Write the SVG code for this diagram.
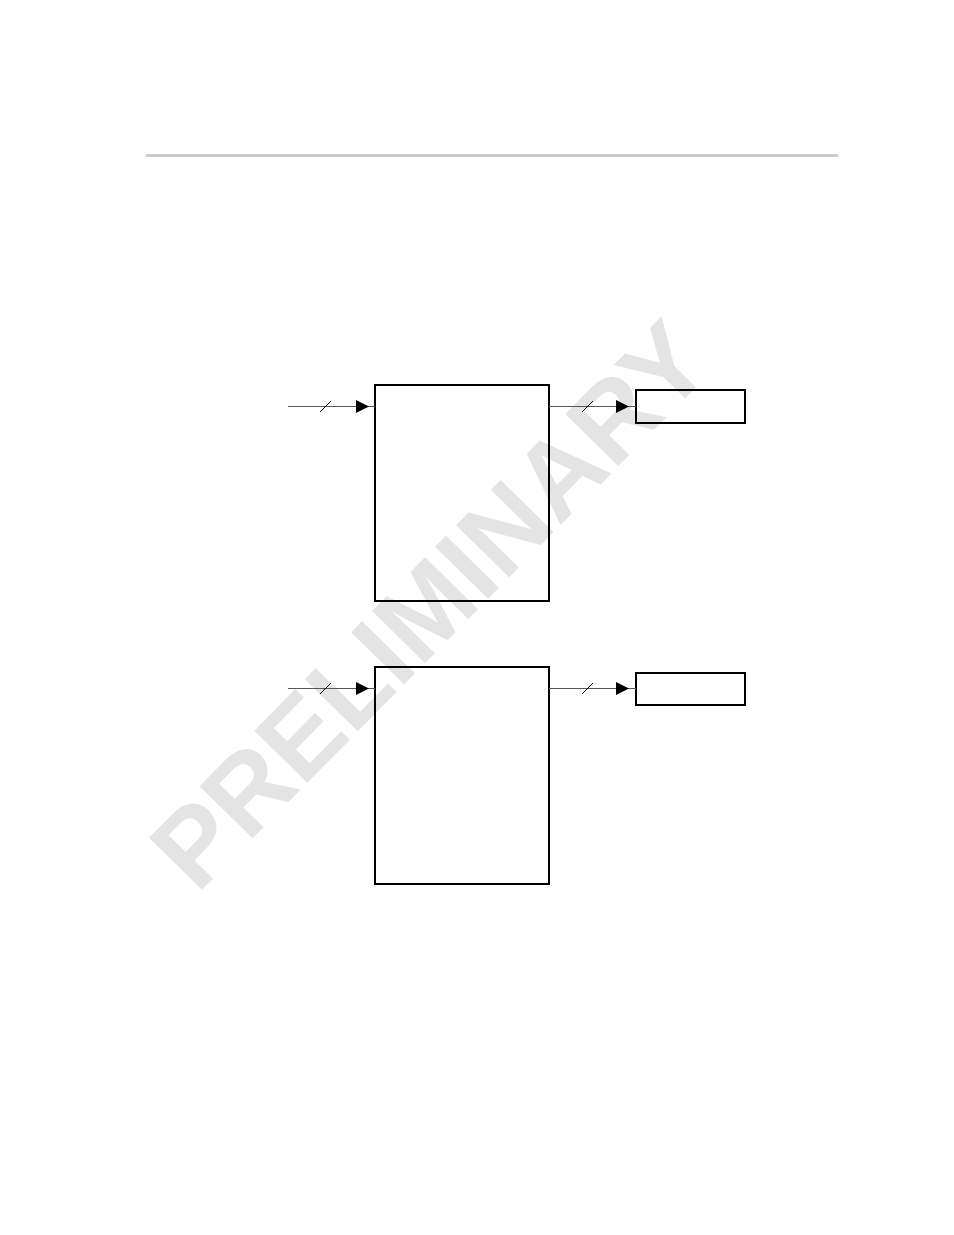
<svg xmlns="http://www.w3.org/2000/svg" width="954" height="1235" viewBox="0 0 954 1235">
<style>
.box{fill:none;stroke:#000;stroke-width:2}
.wire{stroke:#555;stroke-width:1;fill:none}
.slash{stroke:#000;stroke-width:1}
.head{fill:#000}
.wm{font-family:"Liberation Sans",Arial,sans-serif;font-weight:bold;fill:#e4e4e4}
</style>
<rect width="954" height="1235" fill="#fff"/>
<text class="wm" x="197" y="895" font-size="108" transform="rotate(-45.5 197 895)">PRELIMINARY</text>
<line x1="146" y1="155.5" x2="838" y2="155.5" stroke="#cccccc" stroke-width="3"/>
<g id="block1"><rect class="box" x="375" y="385" width="174" height="216"/></g>
<g id="out1"><rect class="box" x="636" y="390" width="109" height="33"/></g>
<g id="block2"><rect class="box" x="375" y="667" width="174" height="217"/></g>
<g id="out2"><rect class="box" x="636" y="673" width="109" height="32"/></g>
<g id="connectors">
<line class="wire" x1="288" y1="406.5" x2="375" y2="406.5"/>
<line class="slash" x1="320" y1="412" x2="331" y2="401"/>
<polygon class="head" points="356,400 356,413 369,406.5"/>
<line class="wire" x1="549" y1="406.5" x2="636" y2="406.5"/>
<line class="slash" x1="582" y1="412" x2="593" y2="401"/>
<polygon class="head" points="616,400 616,413 629,406.5"/>
<line class="wire" x1="288" y1="688.5" x2="375" y2="688.5"/>
<line class="slash" x1="320" y1="694" x2="331" y2="683"/>
<polygon class="head" points="356,682 356,695 369,688.5"/>
<line class="wire" x1="549" y1="688.5" x2="636" y2="688.5"/>
<line class="slash" x1="582" y1="694" x2="593" y2="683"/>
<polygon class="head" points="616,682 616,695 629,688.5"/>
</g>
</svg>
